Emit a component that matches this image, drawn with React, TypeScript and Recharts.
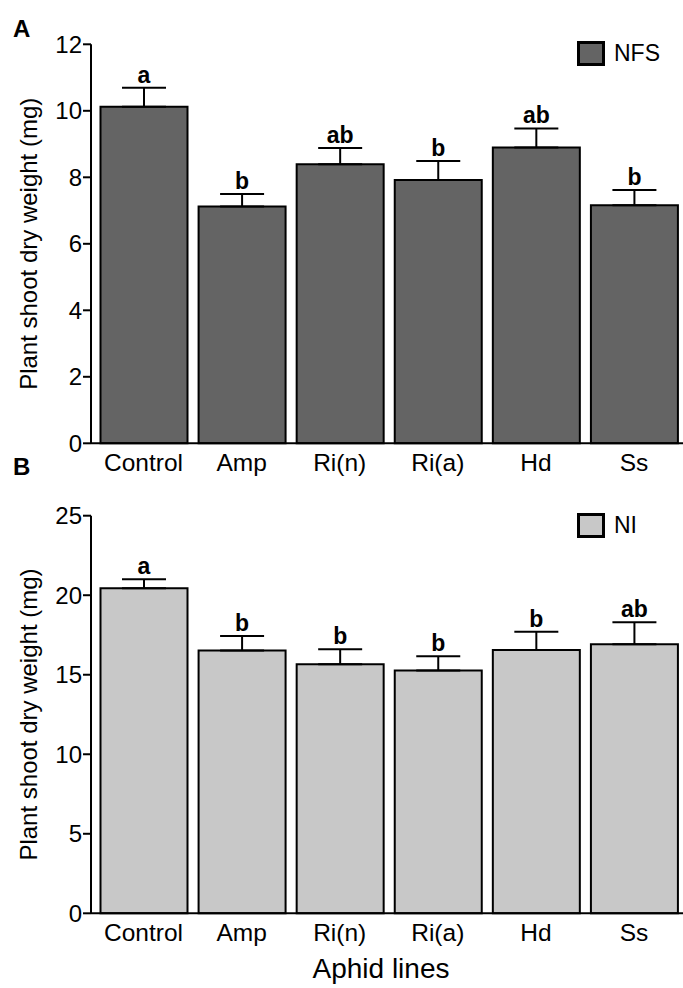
import { Bar, BarChart, ErrorBar, LabelList, XAxis, YAxis } from 'recharts';

const FONT = '"Liberation Sans", Arial, sans-serif';

const lines = ['Control', 'Amp', 'Ri(n)', 'Ri(a)', 'Hd', 'Ss'];

const nfsMeans = [10.12, 7.12, 8.39, 7.92, 8.9, 7.16];
const nfsErrors = [0.57, 0.38, 0.49, 0.57, 0.57, 0.46];
const nfsLetters = ['a', 'b', 'ab', 'b', 'ab', 'b'];
const nfsTicks = [0, 2, 4, 6, 8, 10, 12];

const niMeans = [20.44, 16.52, 15.66, 15.26, 16.56, 16.92];
const niErrors = [0.57, 0.92, 0.94, 0.9, 1.15, 1.38];
const niLetters = ['a', 'b', 'b', 'b', 'b', 'ab'];
const niTicks = [0, 5, 10, 15, 20, 25];

interface PanelProps {
  tag: string;
  tagTop: number;
  name: string;
  fill: string;
  means: number[];
  errors: number[];
  letters: string[];
  ticks: number[];
  top: number;
  height: number;
  plotTop: number;
  plotBottom: number;
  xLabel?: string;
}

function Panel({ tag, tagTop, name, fill, means, errors, letters, ticks, top, height, plotTop, plotBottom, xLabel }: PanelProps) {
  const rows = lines.map((line, i) => ({ line, mean: means[i], err: [0, errors[i]], letter: letters[i] }));
  const axisHeight = xLabel ? 70 : 40;

  // letter sits just above the error bar cap
  const renderLetter = (props: any) => {
    const vb = props.viewBox ?? props;
    const i = props.index;
    const cap = vb.y - (vb.height / means[i]) * errors[i];
    return (
      <text x={vb.x + vb.width / 2} y={cap - 5} textAnchor="middle" fontFamily={FONT} fontWeight="bold" fontSize={23} fill="#000">
        {props.value}
      </text>
    );
  };

  return (
    <div style={{ position: 'absolute', left: 0, top, width: 683, height }}>
      <BarChart
        width={683}
        height={height}
        data={rows}
        margin={{ top: plotTop, right: 0, bottom: height - plotBottom - axisHeight, left: 0 }}
      >
        <XAxis
          dataKey="line"
          height={axisHeight}
          padding={{ left: 3.5, right: 0 }}
          tickSize={0}
          tickMargin={10}
          axisLine={{ stroke: '#000', strokeWidth: 2 }}
          tick={{ fill: '#000', fontSize: 24.5, fontFamily: FONT }}
          interval={0}
          label={xLabel ? { value: xLabel, position: 'insideBottom', offset: 5, dx: -6, style: { fill: '#000', fontSize: 28, fontFamily: FONT } } : undefined}
        />
        <YAxis
          width={91}
          domain={[ticks[0], ticks[ticks.length - 1]]}
          ticks={ticks}
          interval={0}
          tickSize={8}
          tickMargin={1}
          axisLine={{ stroke: '#000', strokeWidth: 2 }}
          tickLine={{ stroke: '#000', strokeWidth: 2 }}
          tick={{ fill: '#000', fontSize: 24, fontFamily: FONT }}
          label={{
            value: 'Plant shoot dry weight (mg)',
            angle: -90,
            position: 'insideLeft',
            offset: 28,
            style: { textAnchor: 'middle', fill: '#000', fontSize: 24, fontFamily: FONT },
          }}
        />
        <Bar dataKey="mean" fill={fill} stroke="#000" strokeWidth={2} barSize={87} isAnimationActive={false}>
          <ErrorBar dataKey="err" direction="y" width={22} stroke="#000" strokeWidth={2} />
          <LabelList dataKey="letter" content={renderLetter} />
        </Bar>
      </BarChart>
      <div style={{ position: 'absolute', left: 13, top: tagTop, fontFamily: FONT, fontWeight: 'bold', fontSize: 24 }}>{tag}</div>
      <div style={{ position: 'absolute', left: 577, top: plotTop - 4, display: 'flex', alignItems: 'center', fontFamily: FONT, fontSize: 23 }}>
        <span style={{ width: 22, height: 19, border: '3px solid #000', background: fill, marginRight: 9 }} />
        <span>{name}</span>
      </div>
    </div>
  );
}

export default function App() {
  return (
    <div style={{ position: 'absolute', left: 0, top: 0, width: 683, height: 988, background: '#fff' }}>
      <Panel tag="A" tagTop={15} name="NFS" fill="#646464" means={nfsMeans} errors={nfsErrors} letters={nfsLetters} ticks={nfsTicks} top={0} height={500} plotTop={44.3} plotBottom={443.3} />
      <Panel tag="B" tagTop={-18} name="NI" fill="#c8c8c8" means={niMeans} errors={niErrors} letters={niLetters} ticks={niTicks} top={471} height={517} plotTop={44.7} plotBottom={442.3} xLabel="Aphid lines" />
    </div>
  );
}
